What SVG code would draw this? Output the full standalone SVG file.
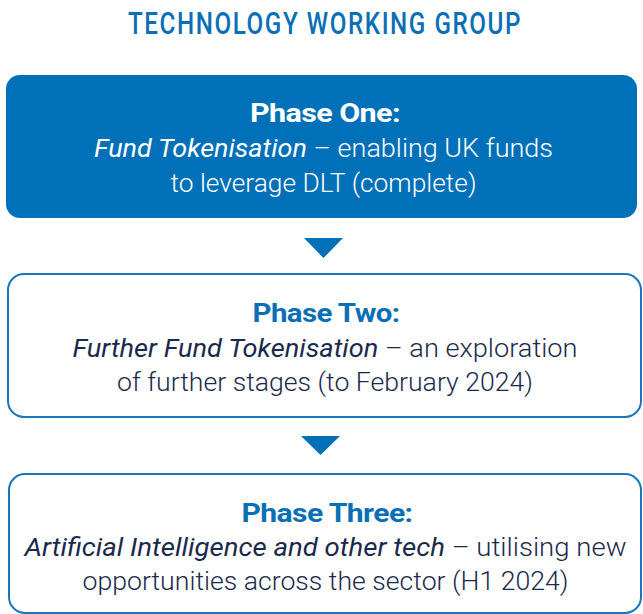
<svg xmlns="http://www.w3.org/2000/svg" width="643" height="614" viewBox="0 0 643 614">
<style>
.title{font-family:"Roboto","Liberation Sans",sans-serif;font-size:31px;font-weight:500;fill:#0a6fb5;text-anchor:middle;letter-spacing:2px}
.ph{font-family:"Roboto","Liberation Sans",sans-serif;font-size:26px;font-weight:700;text-anchor:middle;letter-spacing:-0.5px}
.body{font-family:"Roboto","Liberation Sans",sans-serif;font-size:25px;font-weight:300;text-anchor:middle}
.it{font-style:italic;font-weight:400}
.box2,.box3{fill:#ffffff;stroke:#1a75bb;stroke-width:2}
.navy{fill:#1b2a4c}
.blue{fill:#0a6fb5}
.arrow{fill:#0070b8}
</style>
<rect width="643" height="614" fill="#ffffff"/>
<text class="title" x="325" y="34" textLength="394" lengthAdjust="spacingAndGlyphs">TECHNOLOGY WORKING GROUP</text>
<g id="phase-one">
<rect x="6" y="75" width="631" height="143" rx="14" fill="#0070b8"/>
<text class="ph" x="325" y="122" fill="#ffffff" textLength="150" lengthAdjust="spacingAndGlyphs">Phase One:</text>
<text class="body" x="323.5" y="157" fill="#ffffff" textLength="459" lengthAdjust="spacingAndGlyphs"><tspan class="it">Fund Tokenisation</tspan> – enabling UK funds</text>
<text class="body" x="323.5" y="192" fill="#ffffff" textLength="306" lengthAdjust="spacingAndGlyphs">to leverage DLT (complete)</text>
</g>
<g id="phase-two">
<rect class="box2" x="8" y="274" width="633" height="143" rx="16"/>
<text class="ph blue" x="326" y="322" textLength="147" lengthAdjust="spacingAndGlyphs">Phase Two:</text>
<text class="body navy" x="325" y="357" textLength="505" lengthAdjust="spacingAndGlyphs"><tspan class="it">Further Fund Tokenisation</tspan> – an exploration</text>
<text class="body navy" x="325" y="391" textLength="416" lengthAdjust="spacingAndGlyphs">of further stages (to February 2024)</text>
</g>
<g id="phase-three">
<rect class="box3" x="9" y="474" width="632" height="139" rx="16"/>
<text class="ph blue" x="327" y="522" textLength="171" lengthAdjust="spacingAndGlyphs">Phase Three:</text>
<text class="body navy" x="325.5" y="556" textLength="602" lengthAdjust="spacingAndGlyphs"><tspan class="it">Artificial Intelligence and other tech</tspan> – utilising new</text>
<text class="body navy" x="325.5" y="590" textLength="486" lengthAdjust="spacingAndGlyphs">opportunities across the sector (H1 2024)</text>
</g>
<g id="connectors">
<polygon class="arrow" points="304,238 343,238 323.5,258"/>
<polygon class="arrow" points="301,436 340,436 320.5,455"/>
</g>
</svg>
